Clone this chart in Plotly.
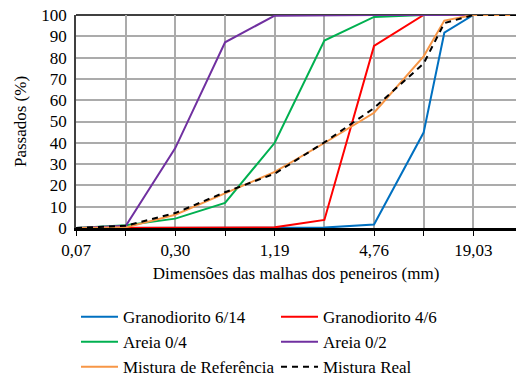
import math
import plotly.graph_objects as go

# Sieve sizes (mm)
sieves = [0.0743, 0.149, 0.297, 0.595, 1.19, 2.38, 4.76, 9.51, 12.7, 19.03, 38.1]

grano_6_14 = [0, 0, 0, 0, 0, 0.2, 1.6, 44.8, 91.7, 100, 100]
grano_4_6 = [0, 0, 0, 0, 0.3, 3.8, 85.5, 100, 100, 100, 100]
areia_0_4 = [0, 1.3, 4.4, 11.8, 40, 88, 99.1, 100, 100, 100, 100]
areia_0_2 = [0, 1.0, 37.5, 87.2, 99.7, 100, 100, 100, 100, 100, 100]
mistura_ref = [0, 0.3, 6.2, 16.2, 26.3, 39.9, 54.1, 80.6, 97.4, 100, 100]
mistura_real = [0, 1.0, 7.0, 16.8, 25.5, 40.2, 56.3, 77.2, 96.2, 100, 100]

series_names = ["Granodiorito 6/14", "Granodiorito 4/6", "Areia 0/4", "Areia 0/2",
                "Mistura de Referência", "Mistura Real"]
series_vals = [grano_6_14, grano_4_6, areia_0_4, areia_0_2, mistura_ref, mistura_real]
series_colors = ["#0070C0", "#FF0000", "#00B050", "#7030A0", "#F79646", "#000000"]

x_tickvals = [0.0743, 0.149, 0.297, 0.595, 1.19, 2.38, 4.76, 9.51, 19.03]
x_ticktext = ["0,07", "", "0,30", "", "1,19", "", "4,76", "", "19,03"]
y_tickvals = [0, 10, 20, 30, 40, 50, 60, 70, 80, 90, 100]

FONT = "Liberation Serif"
FS = 17

fig = go.Figure()
for name, vals, col in zip(series_names, series_vals, series_colors):
    dash = "6px,5px" if name == "Mistura Real" else "solid"
    fig.add_trace(go.Scatter(x=sieves, y=vals, mode="lines", name=name,
                             line=dict(color=col, width=2, dash=dash)))

x0 = math.log10(0.0743)
px_per_doubling = 49.66
x1 = x0 + (440 / px_per_doubling) * math.log10(2)

fig.update_layout(
    width=516, height=381,
    margin=dict(l=76, r=0, t=15, b=153),
    paper_bgcolor="white", plot_bgcolor="white",
    font=dict(family=FONT, size=FS, color="black"),
    showlegend=True,
    legend=dict(orientation="h", x=0.0, xanchor="left", y=0.215, yref="container",
                yanchor="top",
                entrywidth=148, entrywidthmode="pixels", itemwidth=37,
                font=dict(family=FONT, size=FS, color="black"),
                traceorder="normal", bgcolor="rgba(0,0,0,0)"),
    xaxis=dict(type="log", range=[x0, x1], tickmode="array", tickvals=x_tickvals,
               ticktext=x_ticktext, showgrid=True, gridcolor="#ABABAB", gridwidth=1.5,
               showline=True, linecolor="black", linewidth=2.5, ticks="outside",
               ticklen=5, tickcolor="black", tickwidth=1.2, zeroline=False,
               layer="below traces",
               title=dict(text="Dimensões das malhas dos peneiros (mm)", standoff=8,
                          font=dict(family=FONT, size=FS))),
    yaxis=dict(range=[0, 100], tickmode="array", tickvals=y_tickvals,
               showgrid=True, gridcolor="#ABABAB", gridwidth=1.5,
               showline=True, linecolor="#404040", linewidth=1.5, ticks="",
               zeroline=False, layer="below traces", ticklabelstandoff=4,
               title=dict(text="Passados (%)", standoff=10,
                          font=dict(family=FONT, size=FS))),
    shapes=[dict(type="line", xref="paper", yref="paper", x0=0, x1=1, y0=1, y1=1,
                 line=dict(color="black", width=1.5), layer="below")],
)

fig.write_html("out.html")
